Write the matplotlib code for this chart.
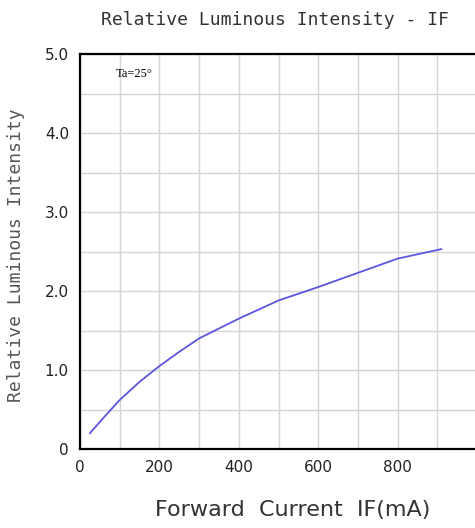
import numpy as np
import matplotlib.pyplot as plt

# Forward current (mA) vs relative luminous intensity
current_ma = [25, 60, 100, 150, 200, 250, 300, 400, 500, 600, 700, 800, 910]
intensity = [0.2, 0.4, 0.62, 0.85, 1.05, 1.23, 1.4, 1.65, 1.88, 2.05, 2.23, 2.41, 2.53]

x_tick_labels = ["0", "200", "400", "600", "800"]
y_tick_labels = ["0", "1.0", "2.0", "3.0", "4.0", "5.0"]

fig = plt.figure(figsize=(4.75, 5.28), dpi=100)
ax = fig.add_axes([80 / 475, 79 / 528, 397 / 475, 395 / 528])

ax.plot(current_ma, intensity, color="#5b55e0", lw=1.3)

ax.set_xlim(0, 1000)
ax.set_ylim(0, 5)
ax.set_xticks(np.arange(0, 1001, 100), minor=True)
ax.set_yticks(np.arange(0, 5.01, 0.5), minor=True)
ax.set_xticks([0, 200, 400, 600, 800])
ax.set_xticklabels(x_tick_labels)
ax.set_yticks([0, 1, 2, 3, 4, 5])
ax.set_yticklabels(y_tick_labels)
ax.grid(True, which="both", color="#d4d4d4", lw=1.0)
ax.set_axisbelow(True)
ax.tick_params(which="both", length=0, labelsize=11, colors="#222222", pad=8)

for side in ["left", "bottom", "top"]:
    ax.spines[side].set_linewidth(1.6)
ax.spines["right"].set_visible(False)

ax.text(0.09, 0.95, "Ta=25°", transform=ax.transAxes, fontsize=9,
        family="Liberation Serif", va="center", ha="left")

fig.text(275 / 475, 1 - 20 / 528, "Relative Luminous Intensity - IF",
         family="DejaVu Sans Mono", fontsize=13, ha="center", va="center",
         color="#333333")
fig.text(16 / 475, 1 - 255 / 528, "Relative Luminous Intensity",
         family="DejaVu Sans Mono", fontsize=13, rotation=90,
         ha="center", va="center", color="#555555")
fig.text(293 / 475, 1 - 510 / 528, "Forward  Current  IF(mA)",
         family="DejaVu Sans", fontsize=16, ha="center", va="center",
         color="#333333")

fig.savefig("out.png")
